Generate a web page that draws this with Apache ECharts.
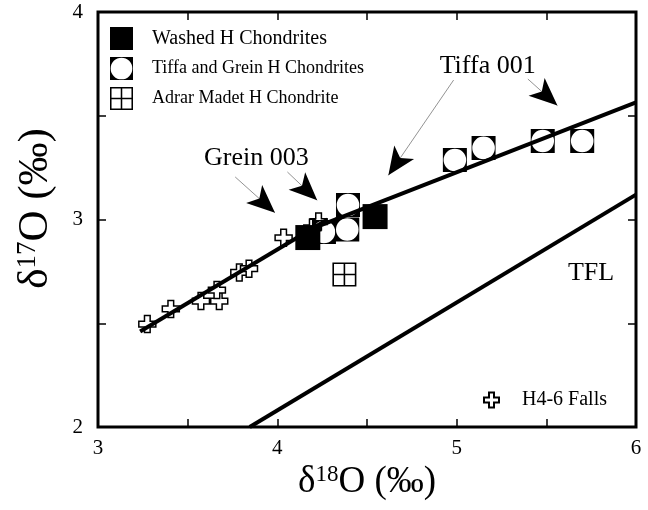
<!DOCTYPE html>
<html><head><meta charset="utf-8">
<script src="https://cdn.jsdelivr.net/npm/echarts@6/dist/echarts.min.js"></script>
<style>html,body{margin:0;padding:0;background:#fff}#c{width:648px;height:510px}</style>
</head><body><div id="c"></div>
<script>
const FONT = '"Liberation Serif","Times New Roman",serif';
// tick labels
const xTickLabels = [3, 4, 5, 6];
const yTickLabels = [2, 3, 4];
// Washed H Chondrites
const washedX = [4.17, 4.545];
const washedY = [2.913, 3.014];
// Tiffa and Grein H Chondrites
const tgX = [4.26, 4.39, 4.394, 4.99, 5.15, 5.48, 5.70];
const tgY = [2.94, 2.952, 3.07, 3.287, 3.345, 3.378, 3.378];
// Adrar Madet H Chondrite
const adrarX = [4.374];
const adrarY = [2.735];
// H4-6 Falls
const fallsX = [3.275, 3.406, 3.574, 3.676, 3.663, 3.788, 3.842, 4.035, 4.23, 4.195];
const fallsY = [2.496, 2.569, 2.607, 2.607, 2.66, 2.745, 2.763, 2.912, 2.99, 2.96];
// fit lines
const lineAX = [3.235, 4.28];
const lineAY = [2.46, 3.0];
const lineBX = [4.19, 6.0];
const lineBY = [2.955, 3.565];
const tflX = [3.846, 6.0];
const tflY = [2.0, 3.12];
// annotations
const noteText = ['Tiffa 001', 'Grein 003', 'TFL'];
const noteX = [5.173, 3.883, 5.749];
const noteY = [3.740, 3.296, 2.742];
const arrowFromX = [4.983, 5.397, 3.765, 4.056];
const arrowFromY = [3.672, 3.677, 3.205, 3.229];
const arrowToX = [4.575, 5.620, 4.045, 4.279];
const arrowToY = [3.157, 3.504, 2.988, 3.046];

const zip = (a, b) => a.map((v, i) => [v, b[i]]);

const SYM_CIRCSQ = 'path://M0 0H24V24H0Z M12 0.7A11.3 11.3 0 0 0 12 23.3A11.3 11.3 0 0 0 12 0.7Z';
const SYM_ADRAR = 'path://M0 0H24V24H0Z M1.6 1.6V11.2H11.2V1.6Z M12.8 1.6V11.2H22.4V1.6Z M1.6 12.8V22.4H11.2V12.8Z M12.8 12.8V22.4H22.4V12.8Z';
const SYM_CROSS = 'path://M8 0H16V8H24V16H16V24H8V16H0V8H8Z';

const tick = {inside: true, length: 8, lineStyle: {color: '#000', width: 1.5}};
const richX = {
  n: {fontFamily: FONT, fontSize: 37, color: '#000'},
  s: {fontFamily: FONT, fontSize: 23, color: '#000', verticalAlign: 'top'}
};
const richY = {
  n: {fontFamily: FONT, fontSize: 43, color: '#000'},
  s: {fontFamily: FONT, fontSize: 27, color: '#000', verticalAlign: 'top'}
};

const option = {
  animation: false,
  backgroundColor: '#fff',
  grid: {left: 98, right: 12, top: 12, bottom: 83, show: true, borderColor: '#000', borderWidth: 3, backgroundColor: 'transparent'},
  legend: [
    {
      orient: 'vertical', left: 105, top: 22, itemWidth: 23, itemHeight: 23, itemGap: 7,
      selectedMode: false,
      textStyle: {fontFamily: FONT, fontSize: 18, color: '#000', padding: [0, 0, 0, 14]},
      data: [
        {name: 'Washed H Chondrites', textStyle: {fontSize: 20}},
        {name: 'Tiffa and Grein H Chondrites'},
        {name: 'Adrar Madet H Chondrite'}
      ]
    },
    {
      left: 478, top: 385, itemWidth: 15, itemHeight: 15, selectedMode: false,
      textStyle: {fontFamily: FONT, fontSize: 20, color: '#000', padding: [0, 0, 0, 18]},
      data: ['H4-6 Falls']
    }
  ],
  xAxis: [
    {
      type: 'value', min: 3, max: 6, interval: 0.5,
      axisLine: {show: false}, splitLine: {show: false}, axisTick: tick,
      axisLabel: {formatter: v => xTickLabels.includes(v) ? String(v) : '', fontFamily: FONT, fontSize: 21, color: '#000', margin: 11},
      name: '{n|δ}{s|18}{n|O (‰)}', nameLocation: 'middle', nameGap: 24,
      nameTextStyle: {fontFamily: FONT, fontSize: 37, color: '#000', rich: richX}
    },
    {
      type: 'value', position: 'top', min: 3, max: 6, interval: 0.5,
      axisLine: {show: false}, splitLine: {show: false}, axisTick: tick, axisLabel: {show: false}
    }
  ],
  yAxis: [
    {
      type: 'value', min: 2, max: 4, interval: 0.5,
      axisLine: {show: false}, splitLine: {show: false}, axisTick: tick,
      axisLabel: {formatter: v => yTickLabels.includes(v) ? String(v) : '', fontFamily: FONT, fontSize: 21, color: '#000', margin: 15},
      name: '{n|δ}{s|17}{n|O (‰)}', nameLocation: 'middle', nameGap: 41,
      nameTextStyle: {fontFamily: FONT, fontSize: 43, color: '#000', rich: richY, padding: [0, 0, 0, 22]}
    },
    {
      type: 'value', position: 'right', min: 2, max: 4, interval: 0.5,
      axisLine: {show: false}, splitLine: {show: false}, axisTick: tick, axisLabel: {show: false}
    }
  ],
  series: [
    {
      name: 'H4-6 Falls', type: 'scatter', z: 2, silent: true,
      symbol: SYM_CROSS, symbolSize: 17,
      itemStyle: {color: '#fff', borderColor: '#000', borderWidth: 1.5, opacity: 1},
      data: zip(fallsX, fallsY)
    },
    {
      name: 'Tiffa and Grein H Chondrites', type: 'scatter', z: 3, silent: true,
      symbol: SYM_CIRCSQ, symbolSize: 24,
      itemStyle: {color: '#000', opacity: 1},
      data: zip(tgX, tgY)
    },
    {
      name: 'Washed H Chondrites', type: 'scatter', z: 4, silent: true,
      symbol: 'rect', symbolSize: 25,
      itemStyle: {color: '#000', opacity: 1},
      data: zip(washedX, washedY)
    },
    {
      name: 'Adrar Madet H Chondrite', type: 'scatter', z: 4, silent: true,
      symbol: SYM_ADRAR, symbolSize: 24,
      itemStyle: {color: '#000', opacity: 1},
      data: zip(adrarX, adrarY)
    },
    {
      name: 'lineA', type: 'line', z: 5, silent: true, showSymbol: false, symbol: 'none',
      lineStyle: {color: '#000', width: 4}, data: zip(lineAX, lineAY)
    },
    {
      id: 'lineB', name: 'lineB', type: 'line', z: 5, silent: true, showSymbol: false, symbol: 'none',
      lineStyle: {color: '#000', width: 4}, data: zip(lineBX, lineBY)
    },
    {
      name: 'TFL', type: 'line', z: 5, silent: true, showSymbol: false, symbol: 'none',
      lineStyle: {color: '#000', width: 4}, data: zip(tflX, tflY)
    },
    {
      name: 'notes', type: 'scatter', z: 6, silent: true, symbolSize: 2,
      itemStyle: {color: 'rgba(0,0,0,0)', opacity: 1},
      label: {show: true, position: 'inside', formatter: '{b}', fontFamily: FONT, fontSize: 26, color: '#000', opacity: 1},
      data: noteText.map((t, i) => ({name: t, value: [noteX[i], noteY[i]]}))
    }
  ]
};

const chart = echarts.init(document.getElementById('c'), null, {renderer: 'canvas'});
chart.setOption(option);

// arrows: thin grey shaft + big black arrow head
const HEAD_W = 18, HEAD_L = 28;
const mlData = [];
arrowFromX.forEach((fx, i) => {
  const from = [fx, arrowFromY[i]];
  const to = [arrowToX[i], arrowToY[i]];
  const p0 = chart.convertToPixel({gridIndex: 0}, from);
  const p1 = chart.convertToPixel({gridIndex: 0}, to);
  const dx = p1[0] - p0[0], dy = p1[1] - p0[1];
  const L = Math.hypot(dx, dy);
  const ux = dx / L, uy = dy / L;
  const c = [p1[0] - ux * HEAD_L / 2, p1[1] - uy * HEAD_L / 2];
  const b = [c[0] - ux * 3, c[1] - uy * 3];
  const cD = chart.convertFromPixel({gridIndex: 0}, c);
  const bD = chart.convertFromPixel({gridIndex: 0}, b);
  mlData.push([
    {coord: from, symbol: 'none', lineStyle: {color: '#777', width: 0.8, type: 'solid'}},
    {coord: cD, symbol: 'none', lineStyle: {color: '#777', width: 0.8, type: 'solid'}}
  ]);
  mlData.push([
    {coord: bD, symbol: 'none', lineStyle: {color: '#000', width: 0, type: 'solid'}},
    {coord: cD, symbol: 'arrow', symbolSize: [HEAD_W, HEAD_L], lineStyle: {color: '#000', width: 0, type: 'solid'}}
  ]);
});
chart.setOption({
  series: [{
    id: 'lineB',
    markLine: {
      silent: true, animation: false, symbol: ['none', 'none'], precision: 6,
      label: {show: false}, emphasis: {disabled: true},
      data: mlData
    }
  }]
});
</script>
</body></html>
